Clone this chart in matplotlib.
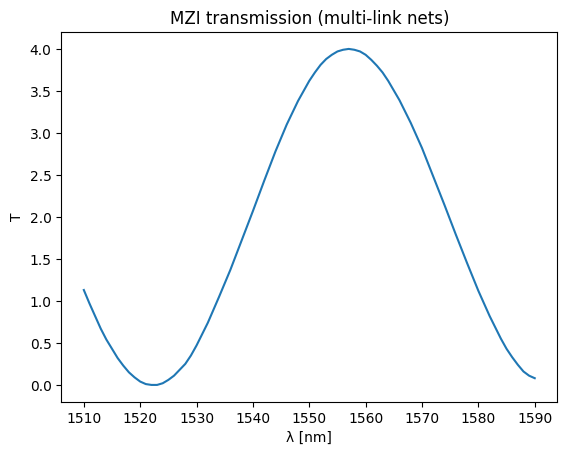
import matplotlib
matplotlib.use("Agg")
import matplotlib.pyplot as plt

wavelength_nm = [1510, 1511, 1512, 1513, 1514, 1515, 1516, 1517, 1518, 1519,
                 1520, 1521, 1522, 1523, 1524, 1525, 1526, 1527, 1528, 1529,
                 1530, 1532, 1534, 1536, 1538, 1540, 1542, 1544, 1546, 1548,
                 1550, 1551, 1552, 1553, 1554, 1555, 1556, 1557, 1558, 1559,
                 1560, 1561, 1562, 1563, 1564, 1566, 1568, 1570, 1572, 1574,
                 1576, 1578, 1580, 1582, 1584, 1585, 1586, 1587, 1588, 1589,
                 1590]
transmission = [1.13, 0.97, 0.82, 0.67, 0.54, 0.43, 0.32, 0.23, 0.15, 0.09,
                0.04, 0.01, 0.00, 0.00, 0.02, 0.06, 0.11, 0.18, 0.25, 0.35,
                0.47, 0.74, 1.05, 1.37, 1.72, 2.07, 2.43, 2.78, 3.10, 3.38,
                3.62, 3.72, 3.81, 3.88, 3.93, 3.97, 3.99, 4.00, 3.99, 3.97,
                3.93, 3.87, 3.80, 3.72, 3.62, 3.39, 3.12, 2.82, 2.48, 2.14,
                1.79, 1.45, 1.12, 0.82, 0.55, 0.43, 0.33, 0.24, 0.16, 0.11,
                0.08]

fig, ax = plt.subplots(figsize=(6.4, 4.8), dpi=100)
ax.plot(wavelength_nm, transmission)
ax.set_title("MZI transmission (multi-link nets)")
ax.set_xlabel("λ [nm]")
ax.set_ylabel("T")
fig.savefig("out.png", dpi=100, bbox_inches="tight")
